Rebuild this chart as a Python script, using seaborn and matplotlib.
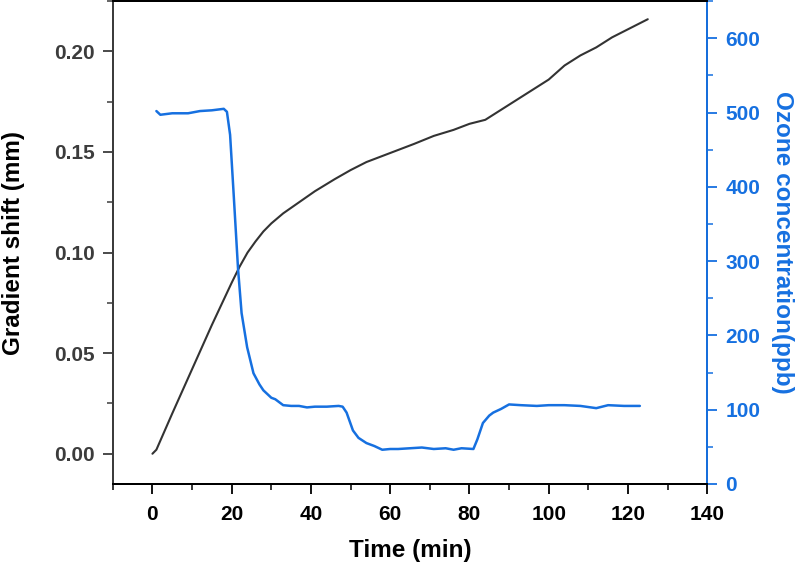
import numpy as np
import pandas as pd
import matplotlib
matplotlib.use("Agg")
import matplotlib.pyplot as plt
from matplotlib.ticker import MultipleLocator
import seaborn as sns

# Gradient shift (left axis)
time_gs = [0, 0.5, 1, 5, 10, 15, 20, 22, 24, 26, 28, 30, 33, 37, 41, 46, 50,
           54, 58, 62, 66, 71, 76, 80, 84, 88, 92, 96, 100, 104, 108, 112,
           116, 120, 125]
gradient_shift = [0.000, 0.001, 0.002, 0.020, 0.042, 0.064, 0.085, 0.093,
                  0.100, 0.1055, 0.1105, 0.1145, 0.1195, 0.1250, 0.1305,
                  0.1365, 0.141, 0.145, 0.148, 0.151, 0.154, 0.158, 0.161,
                  0.164, 0.166, 0.171, 0.176, 0.181, 0.186, 0.193, 0.198,
                  0.202, 0.207, 0.211, 0.216]

# Ozone concentration (right axis)
time_o3 = [1, 2, 5, 9, 12, 15, 18, 18.8, 19.6, 20.5, 21.6, 22.5, 23.9, 25.5,
           27, 28, 30, 31, 33, 35, 37, 39, 41, 44, 47, 48, 49, 50.6, 52, 54,
           56, 58, 60, 62, 65, 68, 71, 74, 76, 78, 81, 82, 83.4, 85, 86, 88,
           90, 93, 97, 100, 104, 108, 112, 115, 119, 123]
ozone = [502, 497, 499, 499, 502, 503, 505, 501, 470, 390, 290, 230, 184, 149,
         134, 126, 116, 114, 106, 105, 105, 103, 104, 104, 105, 104, 96, 72,
         62, 55, 51, 46, 47, 47, 48, 49, 47, 48, 46, 48, 47, 60, 82, 92, 96,
         101, 107, 106, 105, 106, 106, 105, 102, 106, 105, 105]

BLUE = "#1670E0"
DARK = "#333333"
GRAY = "#3c3c3c"

sns.set_style("ticks")
plt.rcParams['font.family'] = ['Liberation Sans', 'DejaVu Sans']
plt.rcParams['font.weight'] = 'bold'

fig = plt.figure(figsize=(8, 5.64), dpi=100)
ax = fig.add_axes([0.141, 0.142, 0.743, 0.856])
ax2 = ax.twinx()

df_gs = pd.DataFrame({'t': time_gs, 'g': gradient_shift})
df_o3 = pd.DataFrame({'t': time_o3, 'o': ozone})
sns.lineplot(data=df_gs, x='t', y='g', ax=ax, color=DARK, linewidth=1.5)
sns.lineplot(data=df_o3, x='t', y='o', ax=ax2, color=BLUE, linewidth=1.8)

ax.set_xlim(-10, 140)
ax.set_ylim(-0.015, 0.225)
ax2.set_ylim(0, 650)

ax.xaxis.set_major_locator(MultipleLocator(20))
ax.xaxis.set_minor_locator(MultipleLocator(10))
ax.yaxis.set_major_locator(MultipleLocator(0.05))
ax.yaxis.set_minor_locator(MultipleLocator(0.025))
ax2.yaxis.set_major_locator(MultipleLocator(100))
ax2.yaxis.set_minor_locator(MultipleLocator(50))
ax.set_xticks(np.arange(0, 141, 20))
ax.yaxis.set_major_formatter(plt.FuncFormatter(lambda v, p: f"{v:.2f}"))

ax.set_xlabel("Time (min)", fontsize=17.5, fontweight='bold', color='black', labelpad=11)
ax.set_ylabel("Gradient shift (mm)", fontsize=17.5, fontweight='bold', color='black', labelpad=21)
ax2.set_ylabel("Ozone concentration(ppb)", fontsize=17.5, fontweight='bold',
               color=BLUE, rotation=270, labelpad=24)

ax.tick_params(axis='x', which='major', length=7, width=1.3, labelsize=15,
               colors='black', pad=8)
ax.tick_params(axis='x', which='minor', length=4, width=1.1, colors='black')
ax.tick_params(axis='y', which='major', length=7, width=1.3, labelsize=15,
               colors=GRAY, pad=6)
ax.tick_params(axis='y', which='minor', length=4, width=1.1, colors=GRAY)
ax2.tick_params(axis='y', which='major', length=7, width=1.3, labelsize=15,
                colors=BLUE, pad=6)
ax2.tick_params(axis='y', which='minor', length=4, width=1.1, colors=BLUE)
for lab in ax.get_xticklabels() + ax.get_yticklabels() + ax2.get_yticklabels():
    lab.set_fontweight('bold')

for a in (ax, ax2):
    for s in a.spines.values():
        s.set_visible(True)
        s.set_linewidth(1.4)
ax.spines['left'].set_color(GRAY)
ax.spines['bottom'].set_color('black')
ax.spines['top'].set_color('black')
ax2.spines['left'].set_color(GRAY)
ax2.spines['top'].set_color('black')
ax2.spines['bottom'].set_color('black')
ax2.spines['right'].set_color(BLUE)

fig.savefig("out.png", dpi=100)
